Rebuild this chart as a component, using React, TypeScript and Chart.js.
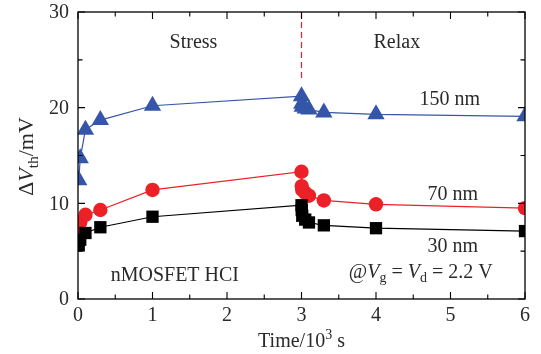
import React, { useEffect, useRef } from 'react';
import { Chart, registerables } from 'chart.js';

Chart.register(...registerables);

// ---- data (time in 10^3 s, ΔVth in mV) ----
const stressTime = [0.01, 0.03, 0.1, 0.3, 1, 3];
const relaxTime = [3.003, 3.01, 3.05, 3.1, 3.3, 4, 6];
const dv150Stress = [12.4, 14.7, 17.7, 18.7, 20.2, 21.2];
const dv150Relax = [20.4, 20.1, 19.9, 19.8, 19.5, 19.3, 19.1];
const dv70Stress = [7.1, 8.0, 8.8, 9.3, 11.4, 13.3];
const dv70Relax = [11.8, 11.4, 11.1, 10.8, 10.3, 9.9, 9.5];
const dv30Stress = [5.6, 6.2, 6.9, 7.5, 8.6, 9.8];
const dv30Relax = [9.3, 8.7, 8.3, 8.0, 7.7, 7.4, 7.1];

const switchTime = 3;
const switchLineTop = 30;
const switchLineBottom = 22.8;

const xMajorTicks = [0, 1, 2, 3, 4, 5, 6];
const xMinorTicks = [0.5, 1.5, 2.5, 3.5, 4.5, 5.5];
const yMajorTicks = [0, 10, 20, 30];
const yMinorTicks = [5, 15, 25];

type Seg = { t: string; italic?: boolean; sub?: boolean; sup?: boolean };

const notes: { x: number; y: number; segs: Seg[] }[] = [
  { x: 1.55, y: 26.8, segs: [{ t: 'Stress' }] },
  { x: 4.28, y: 26.8, segs: [{ t: 'Relax' }] },
  { x: 4.99, y: 20.8, segs: [{ t: '150 nm' }] },
  { x: 5.03, y: 10.9, segs: [{ t: '70 nm' }] },
  { x: 5.03, y: 5.5, segs: [{ t: '30 nm' }] },
  { x: 1.3, y: 2.4, segs: [{ t: 'nMOSFET HCI' }] },
  {
    x: 4.6,
    y: 2.75,
    segs: [
      { t: '@' },
      { t: 'V', italic: true },
      { t: 'g', sub: true },
      { t: ' = ' },
      { t: 'V', italic: true },
      { t: 'd', sub: true },
      { t: ' = 2.2 V' },
    ],
  },
];

const xTitle: Seg[] = [{ t: 'Time/10' }, { t: '3', sup: true }, { t: ' s' }];
const yTitle: Seg[] = [{ t: 'Δ' }, { t: 'V', italic: true }, { t: 'th', sub: true }, { t: '/mV' }];

const FONT_FAMILY = '"Liberation Serif", "Times New Roman", serif';
const FONT_SIZE = 20;
const TITLE_SIZE = 22;
const TEXT_COLOR = '#2a2a2a';
const BLUE = '#3556a8';
const RED = '#ec2027';
const BLACK = '#000000';

function zip(xs: number[], ys: number[]) {
  return xs.map((x, i) => ({ x, y: ys[i] }));
}

function fontFor(s: Seg, size: number) {
  const sz = s.sub || s.sup ? size * 0.7 : size;
  return `${s.italic ? 'italic ' : ''}${sz}px ${FONT_FAMILY}`;
}

function drawRich(ctx: CanvasRenderingContext2D, segs: Seg[], cx: number, cy: number, size: number) {
  let total = 0;
  const widths = segs.map((s) => {
    ctx.font = fontFor(s, size);
    const w = ctx.measureText(s.t).width;
    total += w;
    return w;
  });
  let x = cx - total / 2;
  ctx.textAlign = 'left';
  ctx.textBaseline = 'middle';
  segs.forEach((s, i) => {
    ctx.font = fontFor(s, size);
    let dy = 0;
    if (s.sub) dy = size * 0.3;
    if (s.sup) dy = -size * 0.35;
    ctx.fillText(s.t, x, cy + dy);
    x += widths[i];
  });
}

const framePlugin = {
  id: 'framePlugin',
  afterDraw(chart: any) {
    const ctx: CanvasRenderingContext2D = chart.ctx;
    const { left, right, top, bottom } = chart.chartArea;
    const xs = chart.scales.x;
    const ys = chart.scales.y;
    ctx.save();
    // frame
    ctx.strokeStyle = '#000';
    ctx.lineWidth = 1.3;
    ctx.strokeRect(left, top, right - left, bottom - top);
    // ticks (inward, on all four sides)
    const majorLen = 7;
    const minorLen = 4.5;
    ctx.lineWidth = 1.1;
    ctx.beginPath();
    const xt = (v: number, len: number) => {
      const p = xs.getPixelForValue(v);
      ctx.moveTo(p, bottom);
      ctx.lineTo(p, bottom - len);
      ctx.moveTo(p, top);
      ctx.lineTo(p, top + len);
    };
    const yt = (v: number, len: number) => {
      const p = ys.getPixelForValue(v);
      ctx.moveTo(left, p);
      ctx.lineTo(left + len, p);
      ctx.moveTo(right, p);
      ctx.lineTo(right - len, p);
    };
    xMajorTicks.forEach((v) => xt(v, majorLen));
    xMinorTicks.forEach((v) => xt(v, minorLen));
    yMajorTicks.forEach((v) => yt(v, majorLen));
    yMinorTicks.forEach((v) => yt(v, minorLen));
    ctx.stroke();

    // tick labels
    ctx.fillStyle = TEXT_COLOR;
    ctx.font = `${FONT_SIZE}px ${FONT_FAMILY}`;
    ctx.textAlign = 'center';
    ctx.textBaseline = 'middle';
    xMajorTicks.forEach((v) => {
      ctx.fillText(String(v), xs.getPixelForValue(v), bottom + 17);
    });
    ctx.textAlign = 'right';
    yMajorTicks.forEach((v) => {
      ctx.fillText(String(v), left - 9, ys.getPixelForValue(v) + 1);
    });

    // axis titles
    drawRich(ctx, xTitle, (left + right) / 2, bottom + 43, FONT_SIZE);
    ctx.save();
    ctx.translate(27, ys.getPixelForValue(15) + 1);
    ctx.rotate(-Math.PI / 2);
    drawRich(ctx, yTitle, 0, 0, TITLE_SIZE);
    ctx.restore();

    // annotations
    notes.forEach((n) => {
      drawRich(ctx, n.segs, xs.getPixelForValue(n.x), ys.getPixelForValue(n.y), FONT_SIZE);
    });
    ctx.restore();
  },
};

export default function App() {
  const ref = useRef<HTMLCanvasElement | null>(null);
  useEffect(() => {
    if (!ref.current) return;
    const chart = new Chart(ref.current, {
      type: 'scatter',
      data: {
        datasets: [
          {
            label: 'switch',
            data: [
              { x: switchTime, y: switchLineTop },
              { x: switchTime, y: switchLineBottom },
            ],
            showLine: true,
            borderColor: RED,
            borderWidth: 1.2,
            borderDash: [6, 4],
            pointRadius: 0,
          },
          {
            label: '30 nm',
            data: zip([...stressTime, ...relaxTime], [...dv30Stress, ...dv30Relax]),
            showLine: true,
            borderColor: BLACK,
            borderWidth: 1.2,
            backgroundColor: BLACK,
            pointBackgroundColor: BLACK,
            pointBorderWidth: 0,
            pointStyle: 'rect',
            pointRadius: 8.7,
          },
          {
            label: '70 nm',
            data: zip([...stressTime, ...relaxTime], [...dv70Stress, ...dv70Relax]),
            showLine: true,
            borderColor: RED,
            borderWidth: 1.2,
            backgroundColor: RED,
            pointBackgroundColor: RED,
            pointBorderWidth: 0,
            pointStyle: 'circle',
            pointRadius: 7.2,
          },
          {
            label: '150 nm',
            data: zip([...stressTime, ...relaxTime], [...dv150Stress, ...dv150Relax]),
            showLine: true,
            borderColor: BLUE,
            borderWidth: 1.2,
            backgroundColor: BLUE,
            pointBackgroundColor: BLUE,
            pointBorderWidth: 0,
            pointStyle: 'triangle',
            pointRadius: 10,
          },
        ],
      },
      options: {
        responsive: false,
        animation: false,
        devicePixelRatio: 1,
        layout: { padding: { left: 78, right: 16, top: 12, bottom: 55 } },
        plugins: {
          legend: { display: false },
          tooltip: { enabled: false },
        },
        scales: {
          x: { type: 'linear', min: 0, max: 6, display: false },
          y: { type: 'linear', min: 0, max: 30, display: false },
        },
      },
      plugins: [framePlugin],
    });
    return () => chart.destroy();
  }, []);
  return (
    <div style={{ position: 'fixed', left: 0, top: 0, width: 541, height: 354, background: '#fff' }}>
      <canvas ref={ref} width={541} height={354} style={{ width: 541, height: 354 }} />
    </div>
  );
}
